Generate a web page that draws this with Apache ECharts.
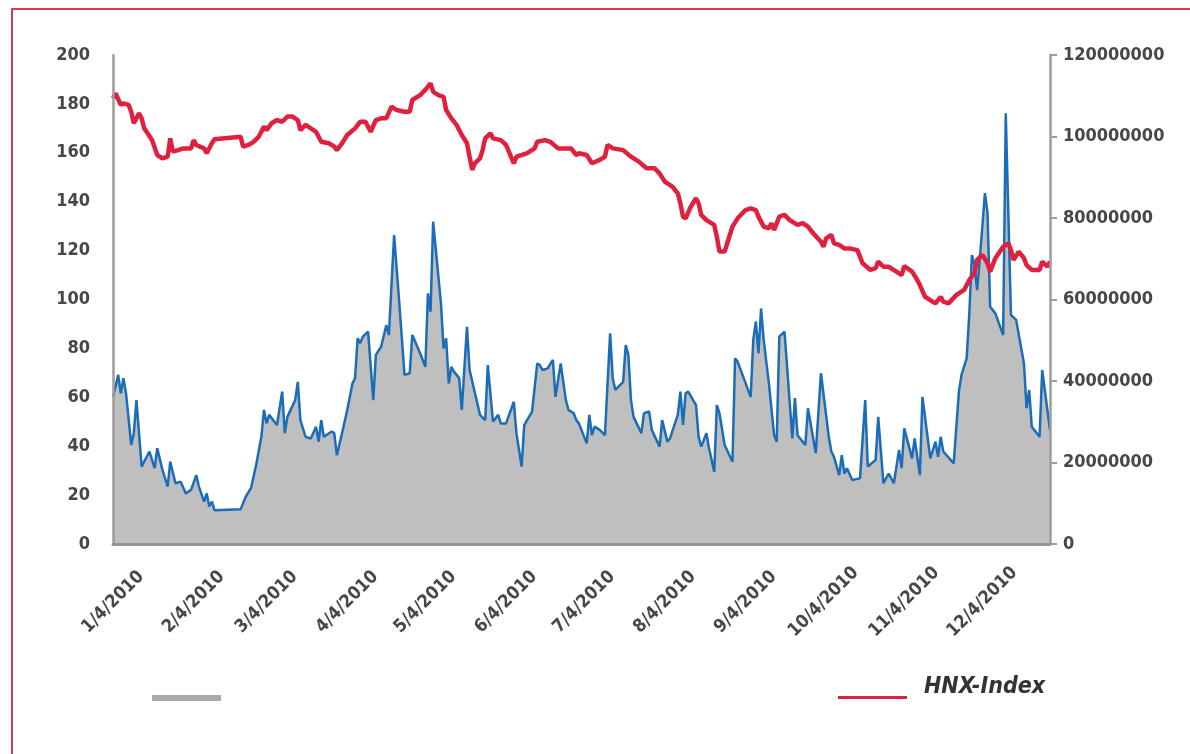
<!DOCTYPE html>
<html><head><meta charset="utf-8">
<script src="https://cdn.jsdelivr.net/npm/echarts@6/dist/echarts.min.js"></script>
<style>
html,body{margin:0;padding:0;background:#fff;overflow:hidden}
#frame{position:absolute;left:11px;top:8px;width:1300px;height:900px;border:2px solid #d63a52;box-sizing:border-box}
#chart{position:absolute;left:0;top:0;width:1190px;height:754px}
</style></head><body>
<div id="frame"></div>
<div id="chart"></div>
<script>
// ---- data ----
const xTickDates = ['2010-01-04','2010-02-04','2010-03-04','2010-04-04','2010-05-04','2010-06-04','2010-07-04','2010-08-04','2010-09-04','2010-10-04','2010-11-04','2010-12-04'];
const xTickLabels = ['1/4/2010','2/4/2010','3/4/2010','4/4/2010','5/4/2010','6/4/2010','7/4/2010','8/4/2010','9/4/2010','10/4/2010','11/4/2010','12/4/2010'];

// trading volume (millions of shares), right axis
const volDates = ['2010-01-04','2010-01-06','2010-01-07','2010-01-08','2010-01-09','2010-01-11','2010-01-12','2010-01-13','2010-01-15','2010-01-18','2010-01-20','2010-01-21','2010-01-23','2010-01-25','2010-01-26','2010-01-28','2010-01-30','2010-02-01','2010-02-03','2010-02-05','2010-02-06','2010-02-08','2010-02-09','2010-02-10','2010-02-11','2010-02-12','2010-02-22','2010-02-24','2010-02-26','2010-02-28','2010-03-02','2010-03-03','2010-03-04','2010-03-05','2010-03-07','2010-03-08','2010-03-10','2010-03-11','2010-03-12','2010-03-15','2010-03-16','2010-03-17','2010-03-19','2010-03-21','2010-03-23','2010-03-24','2010-03-25','2010-03-26','2010-03-29','2010-03-30','2010-03-31','2010-04-02','2010-04-04','2010-04-06','2010-04-07','2010-04-08','2010-04-09','2010-04-10','2010-04-12','2010-04-14','2010-04-15','2010-04-17','2010-04-19','2010-04-20','2010-04-22','2010-04-24','2010-04-26','2010-04-28','2010-04-29','2010-05-02','2010-05-04','2010-05-05','2010-05-06','2010-05-07','2010-05-10','2010-05-11','2010-05-12','2010-05-13','2010-05-14','2010-05-15','2010-05-17','2010-05-18','2010-05-20','2010-05-21','2010-05-25','2010-05-27','2010-05-28','2010-05-30','2010-06-01','2010-06-02','2010-06-04','2010-06-07','2010-06-08','2010-06-10','2010-06-11','2010-06-14','2010-06-16','2010-06-17','2010-06-18','2010-06-20','2010-06-22','2010-06-23','2010-06-25','2010-06-27','2010-06-28','2010-06-30','2010-07-01','2010-07-02','2010-07-05','2010-07-06','2010-07-07','2010-07-08','2010-07-10','2010-07-12','2010-07-14','2010-07-15','2010-07-16','2010-07-19','2010-07-20','2010-07-21','2010-07-22','2010-07-23','2010-07-26','2010-07-27','2010-07-29','2010-07-30','2010-08-02','2010-08-03','2010-08-05','2010-08-06','2010-08-09','2010-08-10','2010-08-11','2010-08-12','2010-08-13','2010-08-16','2010-08-17','2010-08-18','2010-08-20','2010-08-21','2010-08-23','2010-08-24','2010-08-25','2010-08-27','2010-08-30','2010-08-31','2010-09-01','2010-09-06','2010-09-07','2010-09-08','2010-09-09','2010-09-10','2010-09-11','2010-09-13','2010-09-15','2010-09-16','2010-09-17','2010-09-19','2010-09-22','2010-09-23','2010-09-24','2010-09-27','2010-09-28','2010-10-01','2010-10-03','2010-10-06','2010-10-07','2010-10-08','2010-10-10','2010-10-11','2010-10-12','2010-10-13','2010-10-15','2010-10-18','2010-10-20','2010-10-21','2010-10-24','2010-10-25','2010-10-27','2010-10-29','2010-10-31','2010-11-02','2010-11-03','2010-11-04','2010-11-07','2010-11-08','2010-11-10','2010-11-11','2010-11-14','2010-11-16','2010-11-17','2010-11-18','2010-11-19','2010-11-23','2010-11-25','2010-11-26','2010-11-28','2010-11-29','2010-11-30','2010-12-01','2010-12-02','2010-12-03','2010-12-05','2010-12-06','2010-12-07','2010-12-09','2010-12-12','2010-12-13','2010-12-15','2010-12-17','2010-12-20','2010-12-21','2010-12-22','2010-12-23','2010-12-26','2010-12-27','2010-12-30'];
const volValues = [36.1,41.5,37.0,40.7,37.0,24.3,27.2,35.3,19.0,22.7,18.6,23.5,18.2,14.1,20.2,14.9,15.3,12.4,13.3,16.9,14.1,10.4,12.4,9.2,10.4,8.3,8.5,11.6,13.7,19.4,26.3,32.9,29.6,31.7,30.0,29.2,37.4,27.2,31.2,35.3,39.8,30.4,26.3,25.9,28.8,25.1,30.4,26.3,27.6,27.2,21.8,27.2,32.9,39.4,40.7,50.5,49.3,50.9,52.1,35.3,46.4,48.4,53.7,51.3,75.8,59.1,41.5,41.9,51.3,46.8,43.5,61.5,57.0,79.1,59.1,48.0,50.5,39.4,43.5,42.3,40.7,32.9,53.3,42.7,31.7,30.4,43.9,30.0,31.7,29.6,29.6,34.9,27.2,19.0,29.2,32.5,44.3,43.9,42.7,43.1,45.2,36.1,44.3,35.3,32.9,32.1,30.4,29.6,24.7,31.7,26.7,28.8,28.0,26.7,51.7,40.7,37.8,39.8,48.8,46.4,35.3,31.2,27.2,32.1,32.5,28.0,23.9,30.4,25.1,25.9,31.7,37.4,29.2,37.0,37.4,34.1,26.3,23.9,27.2,23.5,17.7,34.1,32.1,24.3,20.2,45.6,44.7,36.1,50.1,54.6,46.8,57.8,50.1,39.4,26.7,25.1,50.9,52.1,25.9,35.8,26.7,24.3,33.3,22.3,41.9,26.3,22.7,21.4,16.9,21.8,17.3,18.6,15.7,16.1,35.3,19.0,20.6,31.2,14.9,17.3,14.9,23.1,18.6,28.4,21.0,25.9,16.9,36.1,21.0,25.1,21.4,26.3,22.7,19.8,37.4,41.5,45.6,56.6,70.9,68.5,62.3,69.7,86.1,81.2,58.2,56.6,51.3,105.7,56.2,55.0,44.3,33.3,37.8,28.8,26.3,42.7,28.0];

// HNX-Index, left axis
const hnxDates = ['2010-01-04','2010-01-05','2010-01-07','2010-01-08','2010-01-10','2010-01-11','2010-01-12','2010-01-14','2010-01-15','2010-01-16','2010-01-19','2010-01-21','2010-01-23','2010-01-25','2010-01-26','2010-01-27','2010-01-29','2010-01-31','2010-02-03','2010-02-04','2010-02-05','2010-02-08','2010-02-09','2010-02-11','2010-02-12','2010-02-22','2010-02-23','2010-02-25','2010-02-27','2010-03-01','2010-03-03','2010-03-04','2010-03-06','2010-03-08','2010-03-10','2010-03-12','2010-03-14','2010-03-16','2010-03-17','2010-03-19','2010-03-21','2010-03-23','2010-03-25','2010-03-28','2010-03-30','2010-03-31','2010-04-02','2010-04-04','2010-04-07','2010-04-09','2010-04-11','2010-04-13','2010-04-15','2010-04-17','2010-04-19','2010-04-21','2010-04-23','2010-04-26','2010-04-28','2010-04-29','2010-05-02','2010-05-04','2010-05-06','2010-05-07','2010-05-09','2010-05-11','2010-05-12','2010-05-14','2010-05-16','2010-05-18','2010-05-20','2010-05-21','2010-05-22','2010-05-23','2010-05-25','2010-05-26','2010-05-27','2010-05-29','2010-05-30','2010-06-02','2010-06-04','2010-06-07','2010-06-08','2010-06-12','2010-06-15','2010-06-16','2010-06-19','2010-06-21','2010-06-24','2010-06-26','2010-06-29','2010-07-01','2010-07-02','2010-07-05','2010-07-07','2010-07-10','2010-07-12','2010-07-13','2010-07-15','2010-07-19','2010-07-22','2010-07-25','2010-07-28','2010-07-31','2010-08-02','2010-08-04','2010-08-07','2010-08-09','2010-08-10','2010-08-11','2010-08-12','2010-08-14','2010-08-16','2010-08-17','2010-08-18','2010-08-20','2010-08-23','2010-08-24','2010-08-25','2010-08-27','2010-08-28','2010-08-30','2010-09-01','2010-09-04','2010-09-06','2010-09-08','2010-09-09','2010-09-11','2010-09-13','2010-09-14','2010-09-15','2010-09-17','2010-09-19','2010-09-21','2010-09-24','2010-09-26','2010-09-28','2010-09-30','2010-10-03','2010-10-04','2010-10-05','2010-10-07','2010-10-08','2010-10-10','2010-10-12','2010-10-14','2010-10-17','2010-10-19','2010-10-22','2010-10-24','2010-10-25','2010-10-27','2010-10-29','2010-11-01','2010-11-03','2010-11-04','2010-11-07','2010-11-09','2010-11-10','2010-11-12','2010-11-16','2010-11-18','2010-11-19','2010-11-21','2010-11-24','2010-11-27','2010-11-29','2010-12-01','2010-12-02','2010-12-04','2010-12-06','2010-12-07','2010-12-09','2010-12-12','2010-12-14','2010-12-15','2010-12-16','2010-12-18','2010-12-20','2010-12-21','2010-12-23','2010-12-26','2010-12-27','2010-12-29','2010-12-30'];
const hnxValues = [182.3,184.3,179.6,180.2,179.6,176.8,172.1,176.2,174.1,170.0,165.2,159.1,157.7,158.4,165.9,160.5,161.1,161.8,161.8,165.2,163.2,161.8,159.8,163.9,165.5,166.6,162.5,163.2,164.5,166.6,170.7,169.3,172.1,173.4,172.7,174.8,174.8,173.4,169.3,171.4,170.0,168.6,164.5,163.9,162.5,161.1,163.9,167.3,170.0,172.7,172.7,168.6,173.4,174.1,174.1,178.9,177.5,176.8,176.8,181.6,183.6,185.7,188.4,185.0,183.6,182.9,177.5,174.1,171.4,167.3,163.9,158.4,153.0,155.7,157.7,161.1,165.9,168.0,165.9,165.2,163.2,155.7,158.4,159.8,161.8,164.5,165.2,164.5,161.8,161.8,161.8,159.1,159.8,159.1,155.7,157.1,158.4,163.2,161.8,161.1,158.4,156.4,153.7,153.7,151.6,148.2,146.1,143.4,139.3,133.9,133.2,138.0,141.4,139.3,134.6,132.5,130.5,125.7,119.6,119.6,123.0,129.8,133.2,136.6,137.3,136.6,133.9,129.8,129.1,131.2,128.4,133.9,134.6,132.5,130.5,131.2,129.8,127.1,123.6,121.6,125.0,126.4,123.0,122.3,120.9,120.9,120.2,114.8,112.1,112.8,115.5,113.4,113.4,111.4,110.0,113.7,111.4,108.0,105.9,101.1,98.4,101.1,99.1,98.4,101.8,103.9,108.0,110.7,116.2,118.2,114.8,111.4,116.9,121.6,123.0,120.2,116.2,119.6,116.9,114.1,112.1,112.1,115.5,113.4,115.5];

// ---- chart ----
const FONT = "'DejaVu Sans Condensed','Liberation Sans Narrow','Roboto Condensed',sans-serif";
const parse = s => echarts.number.parseDate(s).getTime();
const tickTimes = xTickDates.map(parse);
const labelStyle = {fontFamily: FONT, fontWeight: 'bold', fontSize: 18, color: '#474747'};

const chart = echarts.init(document.getElementById('chart'));
chart.setOption({
  animation: false,
  grid: {left: 113, right: 140, top: 55, bottom: 210},
  xAxis: {
    type: 'value', min: parse('2010-01-04'), max: parse('2010-12-30'), z: 5,
    axisLine: {show: true, onZero: false, lineStyle: {color: '#8f969c', width: 3}},
    axisTick: {show: false, customValues: tickTimes},
    splitLine: {show: false},
    axisLabel: Object.assign({
      customValues: tickTimes, rotate: 45, align: 'center', verticalAlign: 'middle', margin: 58,
      hideOverlap: false, showMinLabel: true, showMaxLabel: true,
      formatter: v => { const i = tickTimes.indexOf(v); return i >= 0 ? xTickLabels[i] : ''; }
    }, labelStyle)
  },
  yAxis: [
    {type: 'value', min: 0, max: 200, interval: 20, position: 'left', z: 5,
     axisLine: {show: true, lineStyle: {color: '#9c9c9c', width: 2.5}},
     axisTick: {show: false}, splitLine: {show: false},
     axisLabel: Object.assign({margin: 23}, labelStyle)},
    {type: 'value', min: 0, max: 120, interval: 20, position: 'right', z: 5,
     axisLine: {show: true, lineStyle: {color: '#9c9c9c', width: 2.5}},
     axisTick: {show: true, length: 7, lineStyle: {color: '#9c9c9c', width: 2}},
     splitLine: {show: false},
     axisLabel: Object.assign({margin: 13, formatter: v => String(Math.round(v * 1000000))}, labelStyle)}
  ],
  legend: [
    {data: [{name: 'Volume', icon: 'rect', itemStyle: {color: '#a9a9a9'}}], left: 152, top: 695, padding: 0,
     itemWidth: 69, itemHeight: 6, selectedMode: false, formatter: () => ''},
    {data: [{name: 'HNX-Index', icon: 'rect', itemStyle: {color: '#d9233f'}}], left: 838, top: 676, padding: 0,
     itemWidth: 69, itemHeight: 3, selectedMode: false,
     formatter: name => '{t|' + name + '}',
     textStyle: {rich: {t: {fontFamily: FONT, fontWeight: 'bold', fontStyle: 'italic', fontSize: 23, color: '#333', padding: [0, 0, 20, 12]}}}}
  ],
  series: [
    {name: 'Volume', type: 'line', yAxisIndex: 1, symbol: 'none', z: 2,
     data: volDates.map((d, i) => [parse(d), volValues[i]]),
     lineStyle: {color: '#1b6db8', width: 2.5}, itemStyle: {color: '#1b6db8'},
     areaStyle: {color: '#bfbfbf', opacity: 1}},
    {name: 'HNX-Index', type: 'line', yAxisIndex: 0, symbol: 'none', z: 3,
     data: hnxDates.map((d, i) => [parse(d), hnxValues[i]]),
     lineStyle: {color: '#e0203f', width: 4.5}, itemStyle: {color: '#e0203f'}}
  ]
});
</script>
</body></html>
